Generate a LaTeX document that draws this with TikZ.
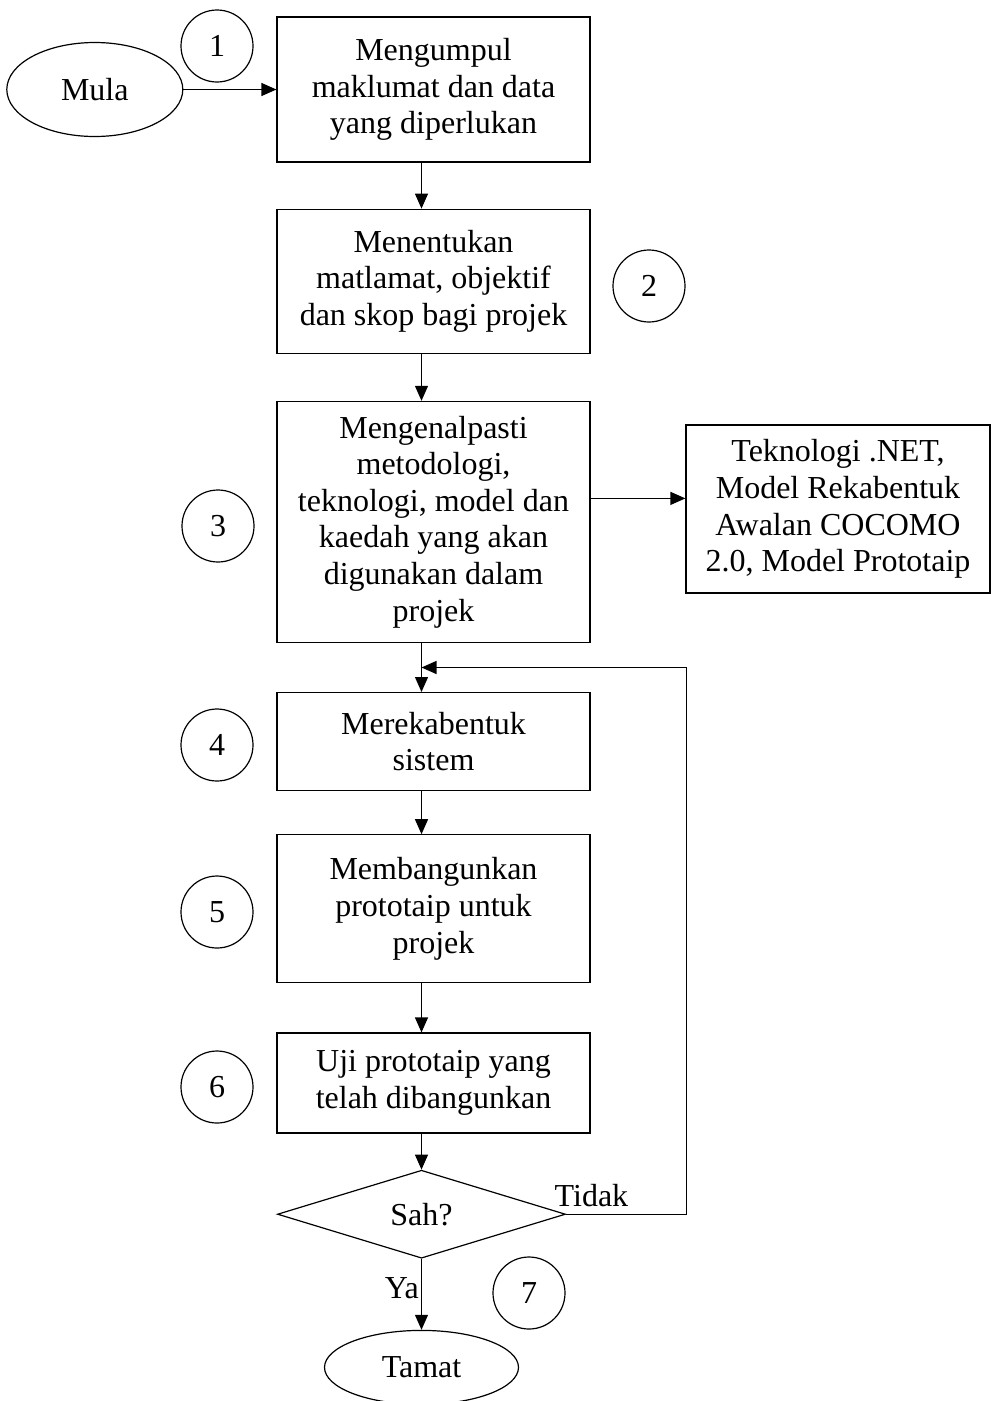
\documentclass[tikz,border=0pt]{standalone}
\usepackage{fontspec}
\setmainfont{Liberation Serif}
\usetikzlibrary{shapes.geometric, arrows.meta, positioning, calc}

\begin{document}
\begin{tikzpicture}[
    x=1pt, y=-1pt,
    font=\fontsize{32}{36.6}\selectfont,
    box/.style={rectangle, draw=black, line width=1.2pt, minimum width=313pt, align=center, inner sep=0pt},
    terminal/.style={ellipse, draw=black, line width=1.2pt, inner sep=0pt},
    decision/.style={diamond, draw=black, line width=1.2pt, minimum width=288pt, minimum height=88pt, inner sep=0pt},
    stepnum/.style={circle, draw=black, line width=1.2pt, minimum size=72pt, inner sep=0pt},
    arrow/.style={-{Triangle[length=15pt, width=13pt]}, line width=1.2pt},
    label/.style={inner sep=2pt}
]
\useasboundingbox (0,0) rectangle (991,1401);

% Start and first step
\node[box, minimum height=145pt] (collect) at (433.5,89.5) {Mengumpul\\maklumat dan data\\yang diperlukan};
\node[terminal, minimum width=176pt, minimum height=94pt, left=93pt of collect] (start) {Mula};
\draw[arrow] (start.east) -- (start.east -| collect.west);

% Main steps
\node[box, minimum height=144pt, below=46pt of collect] (scope) {Menentukan\\matlamat, objektif\\dan skop bagi projek};
\node[box, minimum height=241pt, below=47pt of scope] (method) {Mengenalpasti\\metodologi,\\teknologi, model dan\\kaedah yang akan\\digunakan dalam\\projek};
\node[box, minimum height=98pt, below=49pt of method] (design) {Merekabentuk\\sistem};
\node[box, minimum height=148pt, below=43pt of design] (build) {Membangunkan\\prototaip untuk\\projek};
\node[box, minimum height=100pt, below=49pt of build] (test) {Uji prototaip yang\\telah dibangunkan};
\node[decision, below=36pt of test, xshift=-12pt] (check) {Sah?};
\node[terminal, minimum width=194pt, minimum height=74pt, below=71pt of check] (finish) {Tamat};

% Tools chosen
\node[box, minimum width=304pt, minimum height=168pt] (tech) at (838,509) {Teknologi .NET,\\Model Rekabentuk\\Awalan COCOMO\\2.0, Model Prototaip};
\draw[arrow] ([yshift=23.5pt]method.east) coordinate (toTech) -- (toTech -| tech.west);

% Arrows down the flow
\draw[arrow] ([xshift=-12pt]collect.south) -- ([xshift=-12pt]scope.north);
\draw[arrow] ([xshift=-12pt]scope.south) -- ([xshift=-12pt]method.north);
\draw[arrow] ([xshift=-12pt]method.south) -- ([xshift=-12pt]design.north);
\draw[arrow] ([xshift=-12pt]design.south) -- ([xshift=-12pt]build.north);
\draw[arrow] ([xshift=-12pt]build.south) -- ([xshift=-12pt]test.north);
\draw[arrow] ([xshift=-12pt]test.south) -- (check.north);
\draw[arrow] (check.south) -- node[label, left, yshift=6pt] (yes) {Ya} (finish.north);

% Loop back when not valid
\coordinate (join) at ($([xshift=-12pt]method.south)!0.5!([xshift=-12pt]design.north)$);
\draw[arrow] (check.east) node[label, anchor=south west, xshift=-14pt, yshift=5pt] (no) {Tidak} -- ++(120,0) |- (join);

% Step numbers
\node[stepnum] (n1) at (217,46) {1};
\node[stepnum] (n2) at (649,286) {2};
\node[stepnum] (n3) at (218,526) {3};
\node[stepnum] (n4) at (217,745) {4};
\node[stepnum] (n5) at (217,912) {5};
\node[stepnum] (n6) at (217,1087) {6};
\node[stepnum] (n7) at (529,1293) {7};

\end{tikzpicture}
\end{document}
